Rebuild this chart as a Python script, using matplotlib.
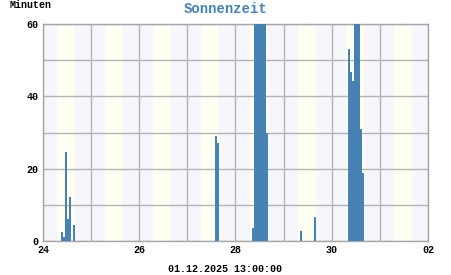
import matplotlib
matplotlib.use("Agg")
import matplotlib.pyplot as plt

# hourly sunshine minutes, hours counted from 24.11. 00:00
day_offsets = [0, 0, 0, 0, 0, 0, 0,
               3, 3,
               4, 4, 4, 4, 4, 4, 4, 4,
               5, 5,
               6, 6, 6, 6, 6, 6, 6, 6]
bar_hours = [9, 10, 11, 12, 13, 14, 15,
             14, 15,
             8, 9, 10, 11, 12, 13, 14, 15,
             8, 15,
             8, 9, 10, 11, 12, 13, 14, 15]
minutes = [2.4, 1.2, 24.7, 6.1, 12.3, 0, 4.4,
           29.0, 27.0,
           3.7, 60, 60, 60, 60, 60, 60, 29.8,
           2.9, 6.7,
           53.2, 46.8, 44.3, 60, 60, 60, 31.1, 18.9]

tick_labels = ["24", "26", "28", "30", "02"]
n_days = 8
day_start, day_end = 7, 16  # light (daytime) band

mono = "Liberation Mono"
bar_color = "#4682b4"

fig = plt.figure(figsize=(4.51, 2.75), dpi=100)
ax = fig.add_axes([43 / 451, 34 / 275, 385 / 451, 217 / 275])

# day / night background bands
for d in range(n_days):
    base = d * 24
    ax.axvspan(base, base + day_start, color="#f5f7fd", lw=0, zorder=0)
    ax.axvspan(base + day_start, base + day_end, color="#fffff2", lw=0, zorder=0)
    ax.axvspan(base + day_end, base + 24, color="#f5f7fd", lw=0, zorder=0)

x = [d * 24 + h for d, h in zip(day_offsets, bar_hours)]
ax.bar(x, minutes, width=1.0, align="edge", color=bar_color, lw=0, zorder=3)

ax.set_xlim(0, n_days * 24)
ax.set_ylim(0, 60)
ax.set_xticks(range(0, n_days * 24 + 1, 48))
ax.set_xticklabels(tick_labels)
ax.set_xticks(range(0, n_days * 24 + 1, 24), minor=True)
ax.set_yticks([0, 20, 40, 60])
ax.set_yticks(range(0, 61, 10), minor=True)
ax.grid(True, which="both", color="#b4b4b4", lw=1.0, zorder=1)
ax.set_axisbelow(True)
ax.tick_params(which="both", length=0, pad=3)
for lab in ax.get_xticklabels() + ax.get_yticklabels():
    lab.set_fontfamily(mono)
    lab.set_fontweight("bold")
    lab.set_fontsize(7.2)
for s in ax.spines.values():
    s.set_color("#a8a8a8")
    s.set_linewidth(1.0)

fig.text(0.5, 1 - 9 / 275, "Sonnenzeit", ha="center", va="center",
         family=mono, fontsize=10, color=bar_color, fontweight="bold")
fig.text(10 / 451, 1 - 5 / 275, "Minuten", ha="left", va="center",
         family=mono, fontsize=7.2, fontweight="bold")
fig.text(0.5, 1 - 269 / 275, "01.12.2025 13:00:00", ha="center", va="center",
         family=mono, fontsize=7.2, fontweight="bold")

fig.savefig("out.png", dpi=100)
